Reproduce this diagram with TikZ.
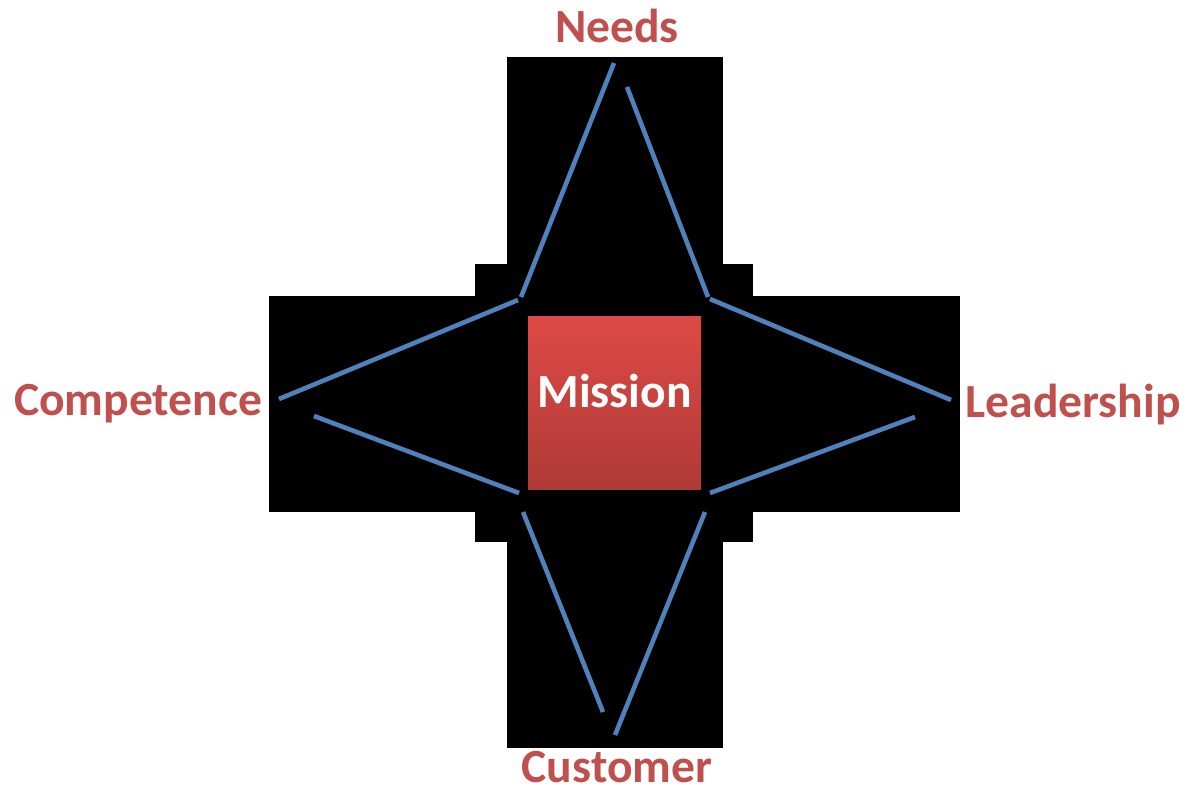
\documentclass[tikz,border=0pt]{standalone}
\usepackage{fontspec}
\setmainfont{Carlito}
\definecolor{labelred}{RGB}{192,80,77}
\definecolor{lineblue}{RGB}{79,129,189}
\definecolor{boxtop}{RGB}{222,74,70}
\definecolor{boxbottom}{RGB}{174,58,54}
\begin{document}
\begin{tikzpicture}[x=0.5pt,y=-0.5pt]
        \useasboundingbox (0,0) rectangle (1186,794);
        \fill[black] (507,57) rectangle (723,748);
        \fill[black] (475,264) rectangle (753,542);
        \fill[black] (269,296) rectangle (960,512);
        \node[minimum width=86.5pt,minimum height=86.5pt,inner sep=0pt,
            top color=boxtop,bottom color=boxbottom,
            text=white,font=\fontsize{23.8}{28}\selectfont\bfseries,
            text height=16pt,text depth=11.5pt] (mission) at (614.5,402.5) {Mission};
        \begin{scope}[every node/.style={anchor=base,inner sep=0pt,text=labelred,font=\fontsize{23.8}{28}\selectfont\bfseries}]
            \node (needs) at (617,42) {Needs};
            \node (competence) at (138,415) {Competence};
            \node (leadership) at (1073,417) {Leadership};
            \node (customer) at (617,782.5) {Customer};
        \end{scope}
        \coordinate (n1) at (614,63);
        \coordinate (n2) at (627,87);
        \coordinate (c1) at (279,399);
        \coordinate (c2) at (314,416);
        \coordinate (l1) at (951,400);
        \coordinate (l2) at (915,417);
        \coordinate (u1) at (615,735);
        \coordinate (u2) at (603,712);
        \coordinate (tl) at (521,297);
        \coordinate (tr) at (708,297);
        \coordinate (lt) at (518,300);
        \coordinate (lb) at (519,493);
        \coordinate (rt) at (710,299);
        \coordinate (rb) at (710,493);
        \coordinate (bl) at (523,512);
        \coordinate (br) at (705,512);
        \begin{scope}[every edge/.style={draw,lineblue,line width=2.3pt}]
            \path
                (tl) edge (n1)
                (n2) edge (tr);
            \path
                (lt) edge (c1)
                (c2) edge (lb);
            \path
                (rt) edge (l1)
                (l2) edge (rb);
            \path
                (bl) edge (u2)
                (br) edge (u1);
        \end{scope}
    \end{tikzpicture}
\end{document}
